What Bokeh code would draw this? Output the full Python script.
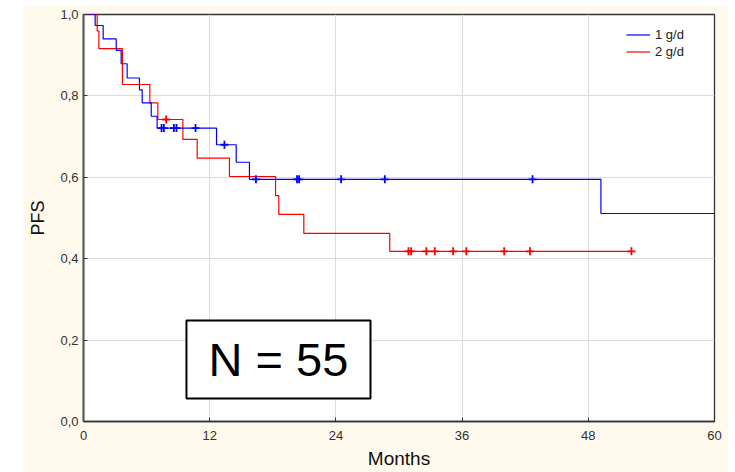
import numpy as np
from bokeh.plotting import figure
from bokeh.models import (Range1d, FixedTicker, CustomJSTickFormatter, Legend, LegendItem,
                          BoxAnnotation, Label, Spacer)
from bokeh.layouts import row, column
from bokeh.embed import file_html
from bokeh.resources import INLINE

# ---- data ----
blue_event_months = [0, 1.11, 1.87, 3.11, 3.58, 4.15, 5.32, 5.58, 6.44, 7.0, 12.65, 14.52, 15.78, 49.2, 60]
blue_pfs = [1.0, 0.973, 0.940, 0.912, 0.879, 0.844, 0.815, 0.783, 0.750, 0.721, 0.680, 0.637, 0.595, 0.511, 0.511]
blue_censor_months = [7.42, 7.64, 8.59, 8.84, 10.65, 13.4, 16.4, 20.3, 20.5, 24.5, 28.65, 42.7]

red_event_months = [0, 1.3, 1.46, 3.7, 6.31, 7.07, 9.45, 10.81, 13.88, 18.26, 18.57, 20.95, 29.12, 52.1]
red_pfs = [1.0, 0.960, 0.916, 0.828, 0.783, 0.742, 0.693, 0.647, 0.602, 0.555, 0.509, 0.462, 0.418, 0.418]
red_censor_months = [7.86, 30.9, 31.15, 32.6, 33.4, 35.15, 36.4, 40.0, 42.45, 52.1]

x_ticks = [0, 12, 24, 36, 48, 60]
y_ticks = [0.0, 0.2, 0.4, 0.6, 0.8, 1.0]
series_labels = ["1 g/d", "2 g/d"]
annotation_text = "N = 55"


def step_value(t_events, s_vals, t):
    idx = np.searchsorted(np.asarray(t_events), np.asarray(t), side="right") - 1
    return list(np.asarray(s_vals)[idx])


FONT = "Liberation Sans"
BLUE = "#0000ff"
RED = "#ff0000"

p = figure(width=706, height=467, output_backend="svg", toolbar_location=None,
           x_range=Range1d(0, 60), y_range=Range1d(0, 1.0),
           min_border_left=61, min_border_right=14, min_border_top=9, min_border_bottom=51)
p.background_fill_color = "white"
p.border_fill_color = "#fff9ee"
p.outline_line_color = "#333333"
p.outline_line_width = 1.3

p.xgrid.grid_line_color = "#dcdcdc"
p.ygrid.grid_line_color = "#dcdcdc"
p.xgrid.ticker = FixedTicker(ticks=x_ticks)
p.ygrid.ticker = FixedTicker(ticks=y_ticks)

for ax in (p.xaxis[0], p.yaxis[0]):
    ax.major_tick_in = 4
    ax.major_tick_out = 0
    ax.minor_tick_in = 0
    ax.minor_tick_out = 0
    ax.major_label_text_font = FONT
    ax.major_label_text_font_size = "13px"
    ax.major_label_text_color = "#333333"
    ax.axis_label_text_font = FONT
    ax.axis_label_text_font_style = "normal"
    ax.axis_label_text_color = "#111111"
    ax.major_tick_line_color = "#333333"

p.xaxis.ticker = FixedTicker(ticks=x_ticks)
p.yaxis.ticker = FixedTicker(ticks=y_ticks)
p.yaxis.formatter = CustomJSTickFormatter(code="return tick.toFixed(1).replace('.', ',');")
p.xaxis.axis_label = "Months"
p.yaxis.axis_label = "PFS"
p.xaxis.axis_label_text_font_size = "19px"
p.yaxis.axis_label_text_font_size = "18px"
p.xaxis.major_label_standoff = 9
p.xaxis.axis_label_standoff = 5
p.yaxis.major_label_standoff = 5
p.yaxis.axis_label_standoff = 9
p.xaxis.axis_line_color = "#333333"
p.xaxis.axis_line_width = 1.5
p.yaxis.axis_line_color = "#5a5a5a"
p.yaxis.axis_line_width = 2

r_red = p.step(red_event_months, red_pfs, mode="after", line_color=RED, line_width=1.2)
r_blue = p.step(blue_event_months, blue_pfs, mode="after", line_color=BLUE, line_width=1.2)

p.scatter(red_censor_months, step_value(red_event_months, red_pfs, red_censor_months),
          marker="cross", size=8, line_color=RED, line_width=1.8)
p.scatter(blue_censor_months, step_value(blue_event_months, blue_pfs, blue_censor_months),
          marker="cross", size=8, line_color=BLUE, line_width=1.8)

legend = Legend(items=[LegendItem(label=series_labels[0], renderers=[r_blue]),
                       LegendItem(label=series_labels[1], renderers=[r_red])],
                location="top_right", margin=12, padding=0, spacing=0,
                glyph_width=24, glyph_height=17, label_height=17, label_width=47,
                label_standoff=5, label_text_font=FONT, label_text_font_size="13px",
                label_text_color="#222222", border_line_color=None,
                background_fill_alpha=0)
p.add_layout(legend)

box = BoxAnnotation(left=9.79, right=27.29, bottom=0.0565, top=0.248,
                    fill_color="white", fill_alpha=1.0, line_color="black",
                    line_alpha=1.0, line_width=2)
p.add_layout(box)
p.add_layout(Label(x=18.54, y=0.152, text=annotation_text, text_font=FONT,
                   text_font_size="47px", text_align="center", text_baseline="middle",
                   text_color="black"))

layout = column(Spacer(height=5), row(Spacer(width=22), p))
open("out.html", "w").write(file_html(layout, INLINE))
